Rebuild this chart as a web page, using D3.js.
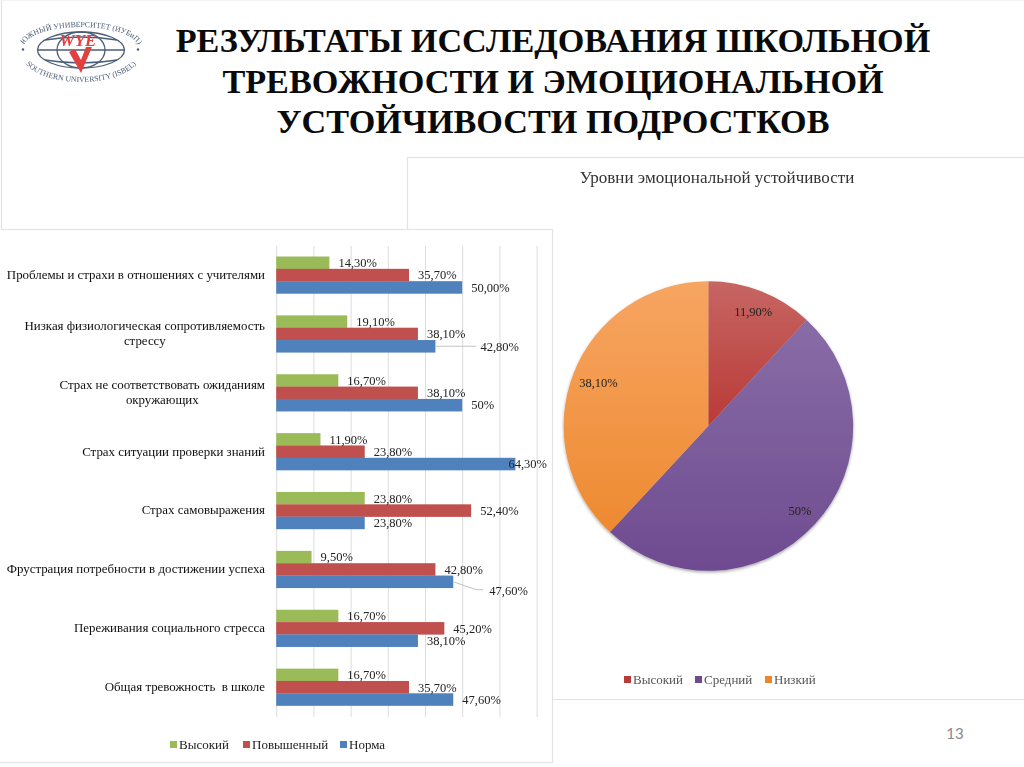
<!DOCTYPE html>
<html lang="ru"><head><meta charset="utf-8">
<script src="https://cdn.jsdelivr.net/npm/d3@7/dist/d3.min.js"></script>
<style>
html,body{margin:0;padding:0;background:#fff;width:1024px;height:767px;overflow:hidden}
text{font-family:"Liberation Serif",serif;white-space:pre}
</style></head><body><svg id="c" width="1024" height="767" xmlns="http://www.w3.org/2000/svg"></svg>
<script>
const titleLines = ["РЕЗУЛЬТАТЫ ИССЛЕДОВАНИЯ ШКОЛЬНОЙ","ТРЕВОЖНОСТИ И ЭМОЦИОНАЛЬНОЙ","УСТОЙЧИВОСТИ ПОДРОСТКОВ"];
const categories = ["Проблемы и страхи в отношениях с учителями","Низкая физиологическая сопротивляемость стрессу","Страх не соответствовать ожиданиям окружающих","Страх ситуации проверки знаний","Страх самовыражения","Фрустрация потребности в достижении успеха","Переживания социального стресса","Общая тревожность  в школе"];
const seriesNames = ["Высокий","Повышенный","Норма"];
const highValues = [14.3,19.1,16.7,11.9,23.8,9.5,16.7,16.7];
const elevatedValues = [35.7,38.1,38.1,23.8,52.4,42.8,45.2,35.7];
const normValues = [50,42.8,50,64.3,23.8,47.6,38.1,47.6];
const highLabels = ["14,30%","19,10%","16,70%","11,90%","23,80%","9,50%","16,70%","16,70%"];
const elevatedLabels = ["35,70%","38,10%","38,10%","23,80%","52,40%","42,80%","45,20%","35,70%"];
const normLabels = ["50,00%","42,80%","50%","64,30%","23,80%","47,60%","38,10%","47,60%"];
const xTicks = [0,10,20,30,40,50,60,70];
const pieTitle = "Уровни эмоциональной устойчивости";
const pieNames = ["Высокий","Средний","Низкий"];
const pieValues = [11.9,50,38.1];
const pieLabels = ["11,90%","50%","38,10%"];
const pageNumber = "13";

const svg = d3.select("#c");
const defs = svg.append("defs");
const blur = defs.append("filter").attr("id","soft").attr("x","-5%").attr("y","-5%").attr("width","110%").attr("height","110%");
blur.append("feGaussianBlur").attr("stdDeviation",0.3);
const shadow = defs.append("filter").attr("id","shadow").attr("x","-10%").attr("y","-10%").attr("width","120%").attr("height","120%");
shadow.append("feDropShadow").attr("dx",0).attr("dy",1.5).attr("stdDeviation",1.6).attr("flood-color","#000").attr("flood-opacity",0.35);

// slide panels
const panelLine = "#e2e2e2";
const panels = svg.append("g").attr("fill","none").attr("stroke",panelLine).attr("stroke-width",1.2);
panels.append("path").attr("d","M1.5,0V229.5H552.5V762.5H0");
panels.append("path").attr("d","M407.5,229V157.5H1024");
panels.append("path").attr("d","M553,699.5H1024");
panels.append("path").attr("d","M0,0.5H1024").attr("stroke","#f3f3f3");

// logo
const logo = svg.append("g").attr("filter","url(#soft)");
const navy = "#4b5d78";
const globe = logo.append("g").attr("fill","none").attr("stroke",navy).attr("stroke-width",1.3);
globe.append("ellipse").attr("cx",81).attr("cy",50).attr("rx",43.5).attr("ry",18);
globe.append("ellipse").attr("cx",81).attr("cy",50).attr("rx",24).attr("ry",18);
globe.append("path").attr("d","M38,50H124M45,40Q81,34 117,40M45,60Q81,66 117,60");
defs.append("path").attr("id","logoTop").attr("d","M24,47A57,20 0 0 1 138,47");
defs.append("path").attr("id","logoBottom").attr("d","M22,54A59,28 0 0 0 140,54");
logo.append("text").attr("font-size",7.8).attr("fill",navy)
  .append("textPath").attr("href","#logoTop").attr("startOffset","50%").attr("text-anchor","middle").text("ЮЖНЫЙ УНИВЕРСИТЕТ (ИУБиП)");
logo.append("text").attr("font-size",7.8).attr("fill",navy)
  .append("textPath").attr("href","#logoBottom").attr("startOffset","50%").attr("text-anchor","middle").text("SOUTHERN UNIVERSITY (ISBEL)");
logo.selectAll("circle.d").data([23,138]).join("circle").attr("cx",d=>d).attr("cy",49.5).attr("r",1.2).attr("fill",navy);
logo.append("path").attr("d","M69,52L81,73L92,47L86,47L81,60L75,49Z").attr("fill","#e2403f");
logo.append("text").attr("x",78).attr("y",46).attr("text-anchor","middle").attr("font-size",17).attr("font-weight",700).attr("font-style","italic").attr("fill","#e2403f").text("WYE");

// title
svg.append("g").selectAll("text").data(titleLines).join("text")
  .attr("x",553).attr("y",(d,i)=>[52,93,133][i]).attr("text-anchor","middle")
  .attr("font-size",34.2).attr("font-weight",700).attr("fill","#0a0a0a").text(d=>d);

// bar chart
const x = d3.scaleLinear().domain([0,70]).range([276.2,536.6]);
const y = d3.scaleBand().domain(categories).range([246,717]).paddingInner(0).paddingOuter(0);
const y1 = d3.scaleBand().domain(seriesNames).range([10.5,47.5]);
const barColors = d3.scaleOrdinal().domain(seriesNames).range(["#9BBB59","#C0504D","#4F81BD"]);
const gridAxis = d3.axisBottom(x).tickValues(xTicks).tickSize(717-246).tickFormat("");
const gridG = svg.append("g").attr("transform","translate(0,246)").call(gridAxis);
gridG.select(".domain").remove();
gridG.selectAll("line").attr("stroke","#dcdcdc").attr("stroke-width",1);

const series = [highValues,elevatedValues,normValues];
const seriesLabels = [highLabels,elevatedLabels,normLabels];
const rows = categories.flatMap((c,i)=>seriesNames.map((s,j)=>({c,s,i,j,v:series[j][i],t:seriesLabels[j][i]})));
const barsG = svg.append("g");
barsG.selectAll("rect").data(rows).join("rect")
  .attr("x",x(0)).attr("y",d=>y(d.c)+y1(d.s)).attr("width",d=>x(d.v)-x(0)).attr("height",y1.bandwidth()+0.2)
  .attr("fill",d=>barColors(d.s));

// label offsets for the labels moved off their bars in the original
const moved = new Map([["1-2",{dx:36,leader:true}],["5-2",{dx:27,leader:true,dy:9}],["3-2",{dx:-16}]]);
const labelG = svg.append("g").attr("filter","url(#soft)");
rows.forEach(d=>{
  const m = moved.get(d.i+"-"+d.j)||{};
  const bx = x(d.v), by = y(d.c)+y1(d.s)+y1.bandwidth()/2;
  const lx = bx+9+(m.dx||0), ly = by+(m.dy||0);
  if(m.leader){
    const pts = m.dy ? [[bx,by],[bx+m.dx-4,ly-1],[bx+m.dx+3,ly-1]] : [[bx,by],[bx+m.dx+5,ly]];
    labelG.append("path").attr("fill","none").attr("stroke","#c4c4c4").attr("stroke-width",1.1).attr("d",d3.line()(pts));
  }
  labelG.append("text").attr("x",lx).attr("y",ly).attr("dy","0.35em").attr("font-size",12.5).attr("fill","#222").text(d.t);
});

// category labels
const catG = svg.append("g").attr("filter","url(#soft)");
const maxW = 264;
categories.forEach(c=>{
  const t = catG.append("text").attr("text-anchor","middle").attr("font-size",12.9).attr("fill","#111");
  const words = c.split(" ");
  const lines = [];
  let cur = "";
  words.forEach(w=>{
    const test = cur===""?w:cur+" "+w;
    t.text(test);
    if(t.node().getComputedTextLength()>maxW && cur!==""){lines.push(cur);cur=w;} else cur=test;
  });
  lines.push(cur);
  t.text(null);
  const widest = d3.max(lines,l=>{t.text(l);return t.node().getComputedTextLength();});
  t.text(null);
  const cy = y(c)+y.bandwidth()/2-0.5;
  lines.forEach((l,k)=>{
    t.append("tspan").attr("x",265-widest/2).attr("y",cy+(k-(lines.length-1)/2)*15+4).text(l);
  });
});

// bar legend
const legendSpots = [170,243,340];
const barLegend = svg.append("g").attr("filter","url(#soft)");
seriesNames.forEach((s,i)=>{
  barLegend.append("rect").attr("x",legendSpots[i]).attr("y",741).attr("width",7).attr("height",7).attr("fill",barColors(s));
  barLegend.append("text").attr("x",legendSpots[i]+9).attr("y",749).attr("font-size",13).attr("fill","#222").text(s);
});

// pie
svg.append("text").attr("x",717).attr("y",183).attr("text-anchor","middle").attr("font-size",17).attr("fill","#333").attr("filter","url(#soft)").text(pieTitle);
const pieColors = [["#c66663","#b93a37"],["#8d72aa","#6e4b90"],["#f7a562","#ec8629"]];
pieNames.forEach((n,i)=>{
  const g = defs.append("linearGradient").attr("id","pg"+i).attr("gradientUnits","userSpaceOnUse").attr("x1",0).attr("x2",0).attr("y1",-145).attr("y2",i===0?0:145);
  g.append("stop").attr("offset",0).attr("stop-color",pieColors[i][0]);
  g.append("stop").attr("offset",1).attr("stop-color",pieColors[i][1]);
});
const pieG = svg.append("g").attr("transform","translate(708.3,426)");
const arcs = d3.pie().sort(null).value(d=>d)(pieValues);
const arc = d3.arc().innerRadius(0).outerRadius(144.7);
pieG.append("g").attr("filter","url(#shadow)").selectAll("path").data(arcs).join("path")
  .attr("d",arc).attr("fill",(d,i)=>`url(#pg${i})`);
const labelRadius = [123,125,118];
pieG.append("g").attr("filter","url(#soft)").selectAll("text").data(arcs).join("text")
  .attr("transform",(d,i)=>{
    const a = (d.startAngle+d.endAngle)/2, r = labelRadius[i];
    return `translate(${Math.sin(a)*r},${-Math.cos(a)*r})`;
  })
  .attr("text-anchor","middle").attr("dy","0.35em").attr("font-size",12.5).attr("fill","#222").text((d,i)=>pieLabels[i]);

// pie legend
const pieSpots = [624,695,765];
const pieLegend = svg.append("g").attr("filter","url(#soft)");
pieNames.forEach((n,i)=>{
  pieLegend.append("rect").attr("x",pieSpots[i]).attr("y",676).attr("width",7).attr("height",7).attr("fill",pieColors[i][1]);
  pieLegend.append("text").attr("x",pieSpots[i]+9).attr("y",684).attr("font-size",13).attr("fill","#555").text(n);
});

svg.append("text").attr("x",955).attr("y",739).attr("text-anchor","middle").style("font-family","Lato,sans-serif").attr("font-size",15).attr("fill","#8a8a8a").text(pageNumber);
</script></body></html>
